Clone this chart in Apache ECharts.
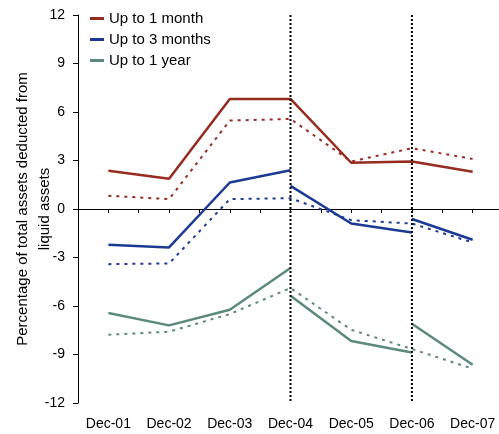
<!DOCTYPE html>
<html>
<head>
<meta charset="utf-8">
<script src="https://cdn.jsdelivr.net/npm/echarts@6/dist/echarts.min.js"></script>
<style>
  html, body { margin: 0; padding: 0; background: #fff; }
  #chart { width: 499px; height: 434px; }
</style>
</head>
<body>
<div id="chart"></div>
<script>
// Year-end reporting dates (x positions 1..7)
const categories = ['Dec-01', 'Dec-02', 'Dec-03', 'Dec-04', 'Dec-05', 'Dec-06', 'Dec-07'];
const yTicks = [-12, -9, -6, -3, 0, 3, 6, 9, 12];

// Solid series; null marks a break where the methodology changes (Dec-04, Dec-06)
const month1Solid = [[1, 2.36], [2, 1.87], [3, 6.81], [4, 6.81], [5, 2.86], [6, 2.94], [7, 2.30]];
const month3Solid = [[1, -2.21], [2, -2.38], [3, 1.64], [4, 2.40], [4, null],
                     [4, 1.43], [5, -0.90], [6, -1.45], [6, null],
                     [6, -0.62], [7, -1.90]];
const year1Solid  = [[1, -6.43], [2, -7.20], [3, -6.23], [4, -3.65], [4, null],
                     [4, -5.36], [5, -8.17], [6, -8.87], [6, null],
                     [6, -7.10], [7, -9.63]];

// Dotted comparison series
const month1Dotted = [[1, 0.82], [2, 0.61], [3, 5.47], [4, 5.57], [5, 2.94], [6, 3.76], [7, 3.10]];
const month3Dotted = [[1, -3.41], [2, -3.37], [3, 0.61], [4, 0.67], [5, -0.69], [6, -0.90], [7, -2.07]];
const year1Dotted  = [[1, -7.78], [2, -7.59], [3, -6.50], [4, -4.89], [5, -7.47], [6, -8.66], [7, -9.88]];

// Vertical break markers
const breakDates = [4, 6];

const RED = '#962B20', BLUE = '#1B3A93', GREEN = '#5B8A78';
const FONT = 'Liberation Sans, Arial, sans-serif';

const chart = echarts.init(document.getElementById('chart'), null, { renderer: 'canvas' });

function solid(name, data, color) {
  return {
    name, type: 'line', data, xAxisIndex: 0, yAxisIndex: 0,
    showSymbol: false, symbol: 'none', connectNulls: false, silent: true,
    lineStyle: { color, width: 2.5 }, itemStyle: { color }, z: 3
  };
}
function dotted(name, data, color) {
  return {
    name, type: 'line', data, xAxisIndex: 0, yAxisIndex: 0,
    showSymbol: false, symbol: 'none', silent: true,
    lineStyle: { color, width: 2, type: [3, 5] }, itemStyle: { color }, z: 2
  };
}

const breakSeries = breakDates.map((d, i) => ({
  name: 'break' + i, type: 'line', xAxisIndex: 0, yAxisIndex: 0,
  data: [[d, yTicks[yTicks.length - 1]], [d, yTicks[0]]],
  showSymbol: false, symbol: 'none', silent: true,
  lineStyle: { color: '#000', width: 2, type: [2, 2] }, z: 4
}));

chart.setOption({
  animation: false,
  textStyle: { fontFamily: FONT },
  grid: { left: 78, top: 15, bottom: 31, right: -4, containLabel: false, outerBoundsMode: 'none' },
  legend: {
    data: ['Up to 1 month', 'Up to 3 months', 'Up to 1 year'],
    orient: 'vertical', left: 90, top: 11, padding: 0,
    itemWidth: 14, itemHeight: 3, itemGap: 6,
    icon: 'rect',
    textStyle: { fontSize: 15, color: '#000', fontFamily: FONT }
  },
  xAxis: [
    {
      // axis line across y = 0 with half-period ticks
      type: 'value', min: 0.5, max: 7.5, interval: 0.5,
      axisLine: { onZero: true, lineStyle: { color: '#000', width: 1 } },
      axisTick: { show: true, inside: false, length: 4, lineStyle: { color: '#000' } },
      axisLabel: { show: false },
      splitLine: { show: false }
    },
    {
      // date labels along the bottom
      type: 'value', min: 0.5, max: 7.5, interval: 0.5, position: 'bottom',
      axisLine: { show: false, onZero: false },
      axisTick: { show: false },
      splitLine: { show: false },
      axisLabel: {
        show: true, margin: 14, fontSize: 14, color: '#000', fontFamily: FONT,
        showMinLabel: true, showMaxLabel: true,
        formatter: v => (Number.isInteger(v) && categories[v - 1]) ? categories[v - 1] : ''
      }
    }
  ],
  yAxis: {
    type: 'value', min: yTicks[0], max: yTicks[yTicks.length - 1], interval: 3,
    name: 'Percentage of total assets deducted from\nliquid assets',
    nameLocation: 'middle', nameGap: 22, nameRotate: 90, nameMoveOverlap: false,
    nameTextStyle: { fontSize: 15, color: '#000', fontFamily: FONT, lineHeight: 22, align: 'center' },
    axisLine: { show: true, lineStyle: { color: '#000', width: 1 } },
    axisTick: { show: true, length: 5, lineStyle: { color: '#000' } },
    axisLabel: { fontSize: 14, color: '#000', margin: 13, fontFamily: FONT },
    splitLine: { show: false }
  },
  series: [
    dotted('Up to 1 month (previous)', month1Dotted, RED),
    dotted('Up to 3 months (previous)', month3Dotted, BLUE),
    dotted('Up to 1 year (previous)', year1Dotted, GREEN),
    solid('Up to 1 month', month1Solid, RED),
    solid('Up to 3 months', month3Solid, BLUE),
    solid('Up to 1 year', year1Solid, GREEN),
    ...breakSeries
  ]
});
</script>
</body>
</html>
